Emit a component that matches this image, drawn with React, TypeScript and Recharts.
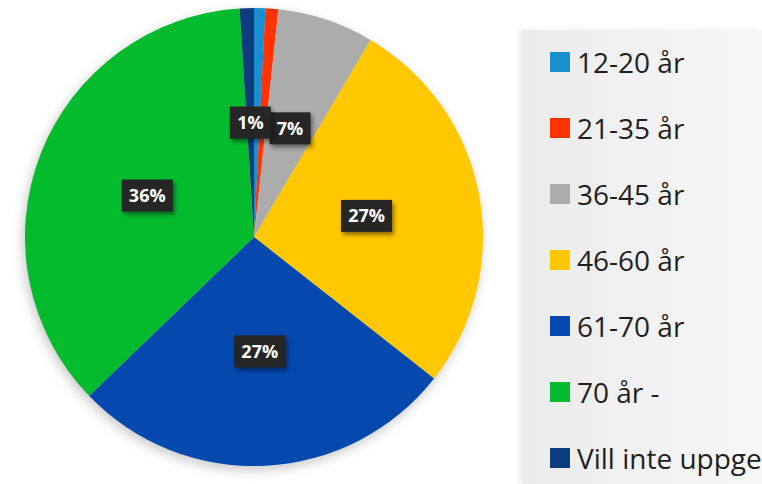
import { PieChart, Pie, Cell, Legend } from "recharts";

const ageGroups = [
  "12-20 år",
  "21-35 år",
  "36-45 år",
  "46-60 år",
  "61-70 år",
  "70 år -",
  "Vill inte uppge",
];
const shares = [0.8, 0.9, 6.8, 27.1, 27.2, 36.2, 1.0];
const sliceLabels = ["", "", "7%", "27%", "27%", "36%", "1%"];
const sliceColors = [
  "#1a8fd0",
  "#ff3200",
  "#acacac",
  "#ffc800",
  "#0548ae",
  "#04bb2e",
  "#0d3d7e",
];

const FONT = "'Open Sans', 'Liberation Sans', sans-serif";
const RADIAN = Math.PI / 180;

const data = ageGroups.map((name, i) => ({ name, value: shares[i] }));

function SliceLabel(props: any) {
  const { cx, cy, midAngle, outerRadius, index } = props;
  const text = sliceLabels[index];
  if (!text) return null;
  const r = outerRadius * 0.5;
  const x = cx + r * Math.cos(-midAngle * RADIAN);
  const y = cy + r * Math.sin(-midAngle * RADIAN);
  const w = 21 + text.length * 10;
  const h = 32;
  return (
    <g>
      <rect
        x={x - w / 2}
        y={y - h / 2}
        width={w}
        height={h}
        fill="#262626"
        style={{ filter: "drop-shadow(2px 3px 2px rgba(0,0,0,0.45))" }}
      />
      <text
        x={x}
        y={y}
        dy="0.36em"
        textAnchor="middle"
        fill="#ffffff"
        fontFamily={FONT}
        fontWeight={700}
        fontSize={18}
      >
        {text}
      </text>
    </g>
  );
}

function AgeLegend() {
  return (
    <div style={{ fontFamily: FONT }}>
      {ageGroups.map((g, i) => (
        <div
          key={g}
          style={{ display: "flex", alignItems: "center", height: 66 }}
        >
          <span
            style={{
              width: 20,
              height: 20,
              background: sliceColors[i],
              marginRight: 7,
              flexShrink: 0,
            }}
          />
          <span style={{ fontSize: 28, color: "#1f1f1f", whiteSpace: "nowrap" }}>
            {g}
          </span>
        </div>
      ))}
    </div>
  );
}

export default function App() {
  return (
    <div
      style={{
        position: "absolute",
        left: 0,
        top: 0,
        width: 762,
        height: 484,
        overflow: "hidden",
        background: "#ffffff",
      }}
    >
      <style>{`.recharts-pie { filter: drop-shadow(-2px 4px 6px rgba(0,0,0,0.22)); }`}</style>
      <div
        style={{
          position: "absolute",
          left: 522,
          top: 30,
          width: 240,
          height: 454,
          background: "linear-gradient(to right, #ebebeb, #f7f7f7)",
          boxShadow: "-3px 0 6px rgba(0,0,0,0.08)",
        }}
      />
      <PieChart
        width={762}
        height={484}
        margin={{ top: 0, right: 0, bottom: 0, left: 0 }}
        style={{ position: "absolute", left: 0, top: 0 }}
      >
        <Pie
          data={data}
          dataKey="value"
          nameKey="name"
          cx={254}
          cy={237}
          outerRadius={229}
          startAngle={90}
          endAngle={-270}
          stroke="none"
          labelLine={false}
          label={SliceLabel}
          isAnimationActive={false}
        >
          {data.map((d, i) => (
            <Cell key={d.name} fill={sliceColors[i]} />
          ))}
        </Pie>
        <Legend
          layout="vertical"
          align="right"
          verticalAlign="top"
          content={AgeLegend}
          wrapperStyle={{ left: 550, top: 29, width: 212 }}
        />
      </PieChart>
    </div>
  );
}
